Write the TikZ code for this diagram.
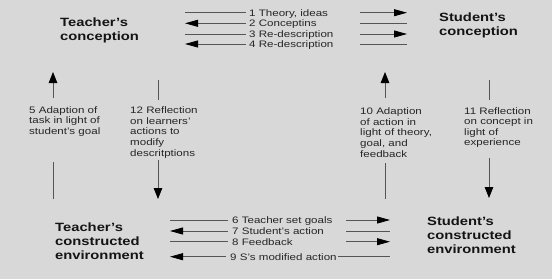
\documentclass[tikz,border=0pt]{standalone}
\usepackage{fontspec}
\setmainfont[FakeStretch=1.23]{Liberation Sans}
\usetikzlibrary{arrows.meta}
\definecolor{bg}{RGB}{216,216,216}
\definecolor{txt}{RGB}{38,38,38}
\definecolor{ln}{RGB}{85,85,85}
\begin{document}
\begin{tikzpicture}[x=1pt,y=1pt,
  title/.style={font=\fontsize{12}{13.8}\selectfont\bfseries, text=black!92, align=left, anchor=west, inner sep=0pt},
  note/.style={font=\fontsize{9.4}{10.6}\selectfont, text=txt, align=left, inner sep=0pt},
  lbl/.style={note, anchor=west, text height=6.8pt, text depth=0pt},
  link/.style={draw=ln, line width=0.8pt},
  harr/.style={link, -{Triangle[length=13pt,width=7pt,color=black]}},
  varr/.style={link, -{Triangle[length=11pt,width=8.5pt,color=black]}}]
\fill[bg] (0,0) rectangle (552,-279);
\useasboundingbox (0,0) rectangle (552,-279);

% main nodes
\node[title] (tc)  at (60,-30)    {Teacher's\\conception};
\node[title] (sc)  at (439,-25)   {Student's\\conception};
\node[title] (tce) at (55,-241.5) {Teacher's\\constructed\\environment};
\node[title] (sce) at (427,-235.5){Student's\\constructed\\environment};

% top rows
\foreach \i/\y in {1/-12.7,2/-23.3,3/-34,4/-44}{
  \coordinate (r\i a) at (185,\y);
  \coordinate (r\i b) at (246,\y);
  \coordinate (r\i c) at (360,\y);
  \coordinate (r\i d) at (407,\y);
}
\node[lbl] (l1) at (249,-12.7) {1 Theory, ideas};
\node[lbl] (l2) at (249,-23.3) {2 Conceptins};
\node[lbl] (l3) at (249,-34)   {3 Re-description};
\node[lbl] (l4) at (249,-44)   {4 Re-description};
\draw[link] (r1a) -- (r1b); \draw[harr] (r1c) -- (r1d);
\draw[harr] (r2b) -- (r2a); \draw[link] (r2c) -- (r2d);
\draw[link] (r3a) -- (r3b); \draw[harr] (r3c) -- (r3d);
\draw[harr] (r4b) -- (r4a); \draw[link] (r4c) -- (r4d);

% bottom rows
\foreach \i/\y in {6/-220,7/-231,8/-241.7,9/-256.7}{
  \coordinate (b\i a) at (170,\y);
  \coordinate (b\i b) at (228,\y);
  \coordinate (b\i c) at (346,\y);
  \coordinate (b\i d) at (390,\y);
}
\node[lbl] (l6) at (232,-220)   {6 Teacher set goals};
\node[lbl] (l7) at (232,-231)   {7 Student's action};
\node[lbl] (l8) at (232,-241.7) {8 Feedback};
\node[lbl] (l9) at (230,-256.7) {9 S's modified action};
\draw[link] (b6a) -- (b6b); \draw[harr] (b6c) -- (b6d);
\draw[harr] (b7b) -- (b7a); \draw[link] (b7c) -- (b7d);
\draw[link] (b8a) -- (b8b); \draw[harr] (b8c) -- (b8d);
\draw[harr] ([xshift=-4pt]l9.west) -- (b9a); \draw[link] ([xshift=1pt]l9.east) -- (b9d);

% vertical notes
\node[note, anchor=west] (n5)  at (29,-121.5)  {5 Adaption of\\task in light of\\student's goal};
\node[note, anchor=west] (n12) at (130,-132.5) {12 Reflection\\on learners'\\actions to\\modify\\descritptions};
\node[note, anchor=west] (n10) at (360,-132.5) {10 Adaption\\of action in\\light of theory,\\goal, and\\feedback};
\node[note, anchor=west] (n11) at (464,-127.5) {11 Reflection\\on concept in\\light of\\experience};

% vertical connectors
\coordinate (v5a) at (53,-199);  \coordinate (v5b) at (53,-162);
\coordinate (v5c) at (53,-98);   \coordinate (v5d) at (53,-72);
\draw[link] (v5a) -- (v5b); \draw[varr] (v5c) -- (v5d);

\coordinate (v12a) at (158,-80);  \coordinate (v12b) at (158,-100);
\coordinate (v12c) at (158,-160); \coordinate (v12d) at (158,-199);
\draw[link] (v12a) -- (v12b); \draw[varr] (v12c) -- (v12d);

\coordinate (v10a) at (385,-199); \coordinate (v10b) at (385,-163);
\coordinate (v10c) at (385,-98);  \coordinate (v10d) at (385,-72);
\draw[link] (v10a) -- (v10b); \draw[varr] (v10c) -- (v10d);

\coordinate (v11a) at (489,-80);  \coordinate (v11b) at (489,-100);
\coordinate (v11c) at (489,-158); \coordinate (v11d) at (489,-198);
\draw[link] (v11a) -- (v11b); \draw[varr] (v11c) -- (v11d);
\end{tikzpicture}
\end{document}
